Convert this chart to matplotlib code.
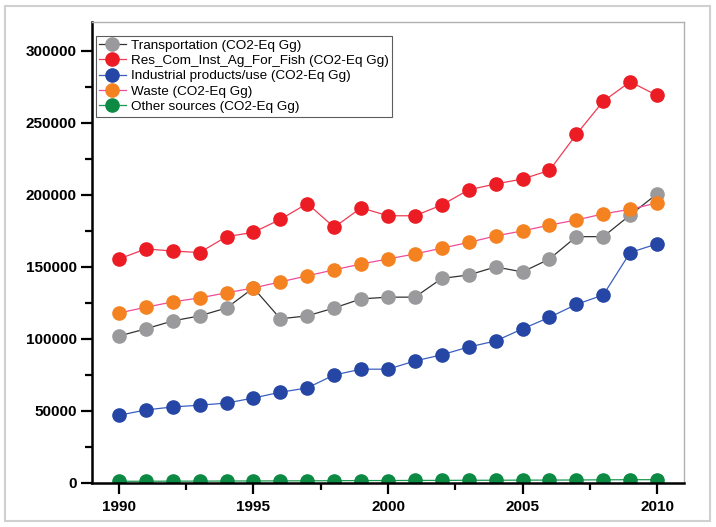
import numpy as np
import matplotlib.pyplot as plt
from matplotlib.patches import Rectangle

plt.rcParams['font.family'] = ['Liberation Sans', 'DejaVu Sans']

years = list(range(1990, 2011))

transport = [102000, 107000, 112500, 116000, 121500, 135400, 114000, 116000, 121500, 127800,
             129000, 129000, 142000, 144400, 150000, 146500, 155500, 171000, 171000, 186000, 200700]
res_com = [155500, 162500, 161000, 160000, 171000, 174000, 183000, 194000, 177500, 191000,
           185500, 185500, 193000, 203500, 207600, 211000, 217000, 242000, 265000, 278500, 269000]
industrial = [47000, 50700, 52800, 54000, 55500, 59000, 63000, 66000, 75000, 79000,
              79000, 84700, 89000, 94400, 98600, 107000, 115000, 124000, 130500, 160000, 166000]
waste = [118000, 122000, 125700, 128500, 132000, 135400, 139600, 143800, 148000, 152000,
         155500, 159000, 163000, 167000, 171500, 175000, 179000, 182600, 186800, 190000, 194400]
other = [1200, 1200, 1300, 1300, 1400, 1400, 1500, 1500, 1600, 1700,
         1700, 1800, 1800, 1900, 1900, 2000, 2000, 2100, 2200, 2300, 2300]

labels = ["Transportation (CO2-Eq Gg)", "Res_Com_Inst_Ag_For_Fish (CO2-Eq Gg)",
          "Industrial products/use (CO2-Eq Gg)", "Waste (CO2-Eq Gg)", "Other sources (CO2-Eq Gg)"]
series = [transport, res_com, industrial, waste, other]
marker_colors = ["#9a9a9c", "#ec1c24", "#2546a4", "#f58220", "#0c8a43"]
line_colors = ["#333333", "#ef3b55", "#3a5fc0", "#ee4c9a", "#1a9a50"]

fig = plt.figure(figsize=(7.16, 5.27), dpi=100)
fig.patches.append(Rectangle((5 / 716, 6 / 527), 705 / 716, 515 / 527, transform=fig.transFigure,
                             fill=False, edgecolor="#d0d0d0", linewidth=1.5))
ax = fig.add_axes([92 / 716, 44 / 527, 592 / 716, 461 / 527])

for vals, lab, mc, lc in zip(series, labels, marker_colors, line_colors):
    ax.plot(years, vals, color=lc, linewidth=0.9, marker="o", markersize=9.5,
            markerfacecolor=mc, markeredgecolor=mc, label=lab)

ax.set_xlim(1989, 2011)
ax.set_ylim(0, 320000)
ax.set_xticks([1990, 1995, 2000, 2005, 2010])
ax.set_xticks(np.arange(1992.5, 2010, 5), minor=True)
ax.set_yticks(np.arange(0, 300001, 50000))
ax.set_yticks(np.arange(25000, 300000, 50000), minor=True)

for lbl in ax.get_xticklabels() + ax.get_yticklabels():
    lbl.set_fontweight("bold")
    lbl.set_fontsize(11)
ax.tick_params(which="major", length=8, width=1.6, color="black")
ax.tick_params(which="minor", length=5, width=1.6, color="black")
ax.tick_params(axis="x", which="both", top=False, pad=4)
ax.tick_params(axis="y", which="both", right=False, pad=3)

ax.spines["left"].set_linewidth(1.8)
ax.spines["bottom"].set_linewidth(1.8)
ax.spines["top"].set_color("#b0b0b0")
ax.spines["right"].set_color("#b0b0b0")
ax.spines["top"].set_linewidth(1)
ax.spines["right"].set_linewidth(1)

leg = ax.legend(loc="upper left", bbox_to_anchor=(0.006, 0.97), fontsize=9.7, frameon=True,
                fancybox=False, edgecolor="#333333", handlelength=2.0, handletextpad=0.4,
                borderpad=0.25, labelspacing=0.22, borderaxespad=0, markerscale=1.0)
leg.get_frame().set_linewidth(0.8)

fig.savefig("out.png", dpi=100)
